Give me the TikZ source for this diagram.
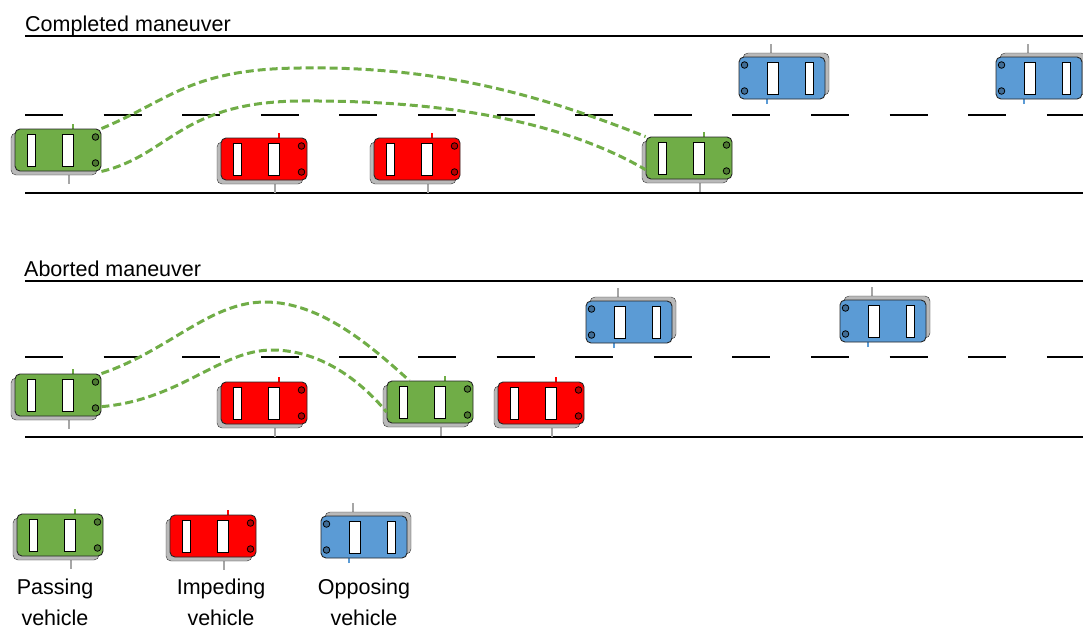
\documentclass[tikz,border=0pt]{standalone}
\usepackage{fontspec}
\setmainfont{Liberation Sans}
\usepackage{tikz}
\usepackage{xcolor}

\definecolor{passgreen}{HTML}{70AD47}
\definecolor{impred}{HTML}{FF0000}
\definecolor{oppblue}{HTML}{5B9BD5}
\colorlet{carcol}{passgreen}

\tikzset{
  carcolor/.code={\colorlet{carcol}{#1}},
  car/.pic={
    % mirrors
    \draw[gray!70, line width=1.8] (11,-21) -- (11,34);
    \draw[carcol, line width=1.8] (15,-26) -- (15,25);
    % shadow and body
    \node[draw=black!80, fill=gray!55, rounded corners=5, minimum width=86, minimum height=42, inner sep=0] (-shadow) at (-4,4) {};
    \node[draw=black!85, fill=carcol, rounded corners=5, minimum width=86, minimum height=42, inner sep=0, line width=0.9] (-body) at (0,0) {};
    % windows and lights
    \draw[fill=white, line width=0.9] (-31,-16) rectangle (-23,16);
    \draw[fill=white, line width=0.9] (4,-16) rectangle (15,16);
    \draw[fill=carcol!70!black, line width=0.8] (37.5,-13) circle (3.3) (37.5,13) circle (3.3);
  },
  road/.style={line width=2},
  lane/.style={line width=2, dash pattern=on 38 off 40.6},
  route/.style={passgreen, line width=3, dash pattern=on 8 off 4},
  lbl/.style={font=\fontsize{21.5}{31}\selectfont, inner sep=0}
}

\begin{document}
\begin{tikzpicture}[x=1pt, y=-1pt]
\useasboundingbox (0,0) rectangle (1083,630);

% Completed maneuver
\node[lbl, anchor=base west] (title1) at (25,31) {Completed maneuver};
\draw[road] (25,36) -- (1083,36);
\draw[lane] (25,115) -- (1083,115);
\draw[road] (25,193) -- (1083,193);

\pic[carcolor=passgreen] (g1) at (58,150) {car};
\pic[carcolor=impred] (r1) at (264,159) {car};
\pic[carcolor=impred] (r2) at (417,159) {car};
\pic[carcolor=passgreen] (g2) at (689,158) {car};
\pic[carcolor=oppblue, rotate=180] (b1) at (782,78) {car};
\pic[carcolor=oppblue, rotate=180] (b2) at (1039,78) {car};

\draw[route] (g1-body.north east) .. controls (170,100) and (190,69) .. (300,68) .. controls (440,66) and (540,95) .. (g2-body.north west);
\draw[route] (g1-body.south east) .. controls (170,155) and (180,102) .. (300,101) .. controls (440,100) and (560,120) .. (g2-body.195);

% Aborted maneuver
\node[lbl, anchor=base west] (title2) at (24,276) {Aborted maneuver};
\draw[road] (25,281) -- (1083,281);
\draw[lane] (25,357) -- (1083,357);
\draw[road] (25,437) -- (1083,437);

\pic[carcolor=passgreen] (g3) at (58,395) {car};
\pic[carcolor=impred] (r3) at (264,403) {car};
\pic[carcolor=passgreen] (g4) at (430,402) {car};
\pic[carcolor=impred] (r4) at (541,403) {car};
\pic[carcolor=oppblue, rotate=180] (b3) at (629,322) {car};
\pic[carcolor=oppblue, rotate=180] (b4) at (883,321) {car};

\draw[route] (g3-body.north east) .. controls (170,350) and (210,302) .. (265,302) .. controls (320,302) and (370,345) .. (g4-body.134);
\draw[route] (g3-body.-15) .. controls (180,400) and (220,350) .. (272,350) .. controls (320,350) and (360,380) .. (g4-body.193);

% Legend
\pic[carcolor=passgreen] (lg) at (60,535) {car};
\pic[carcolor=impred] (lr) at (213,536) {car};
\pic[carcolor=oppblue, rotate=180] (lb) at (364,537) {car};

\node[lbl, align=center, anchor=north] (passlbl) at (55,579) {Passing\\vehicle};
\node[lbl, align=center, anchor=north] (implbl) at (221,579) {Impeding\\vehicle};
\node[lbl, align=center, anchor=north] (opplbl) at (364,579) {Opposing\\vehicle};
\end{tikzpicture}
\end{document}
